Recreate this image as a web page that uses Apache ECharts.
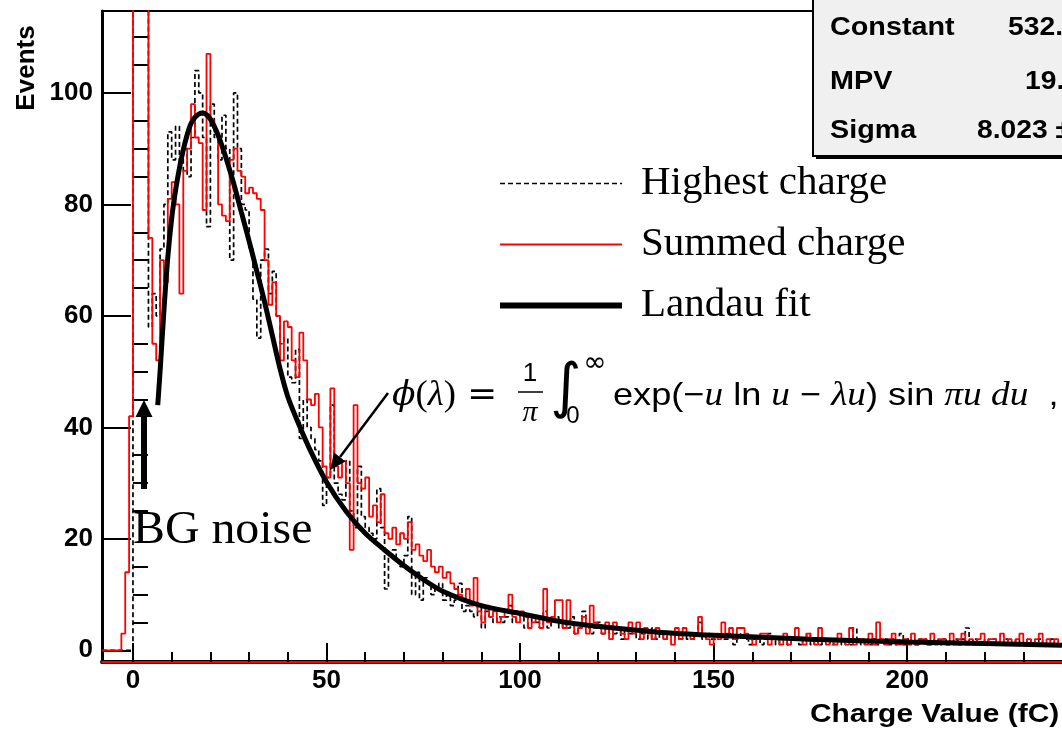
<!DOCTYPE html>
<html><head><meta charset="utf-8">
<script src="https://cdn.jsdelivr.net/npm/echarts@6/dist/echarts.min.js"></script>
<style>html,body{margin:0;padding:0;background:#fff}#c{width:1062px;height:732px}</style>
</head><body><div id="c"></div>
<script>
// ---- data ----
const binStart = -8;   // fC, left edge of first bin
const binWidth = 1;    // fC
const summedCharge = [
  0,0,0,0,0,3,14,42,
  130,130,130,130,74,55,52,70,66,81,
  84,80,64,86,90,98,92,91,79,107,
  95,93,80,78,77,88,90,86,85,82,
  83,82,81,79,70,62,66,60,
  52,59,58,52,49,57,52,45,44,46,40,33,
  31,47,33,31,34,30,18,44,30,29,31,24,
  26,23,28,21,20,22,19,21,20,23,18,19,
  17,16,18,15,14,15,13,14,12,11,10,9,
  11,8,13,7,5,8,6,7,5,6,
  7,10,6,5,7,6,4,5,6,4,11,5,
  6,9,9,4,9,5,3,4,6,3,8,5,
  4,3,5,2,5,4,3,2,5,3,5,2,
  4,3,2,4,3,2,3,1,4,2,4,3,
  2,3,6,3,2,1,3,2,5,3,4,2,
  4,4,3,2,1,2,3,3,1,2,2,1,
  3,1,2,4,2,1,3,2,1,4,2,1,
  2,1,3,2,1,4,1,2,2,1,3,1,
  5,2,1,2,3,1,1,2,1,3,1,2,
  2,1,3,1,2,2,1,3,1,2,3,1,
  2,1,2,3,1,2,2,1,3,1,2,1,
  2,3,1,2,1,2,3,1,2,1,2,1
];
const highestCharge = [
  0,0,0,0,0,0,0,0,
  130,130,130,130,58,64,60,72,80,93,
  88,94,86,90,85,92,104,100,92,76,
  98,92,88,96,90,70,100,90,80,79,
  72,63,56,70,72,64,68,60,
  55,56,49,48,54,38,45,40,38,36,34,26,
  31,44,30,28,27,34,25,22,33,24,22,21,
  20,29,22,11,17,18,16,15,17,24,10,14,
  9,13,12,10,11,12,9,10,8,9,12,7,
  8,7,6,8,4,7,6,5,6,5,
  6,8,5,7,6,4,6,5,5,4,7,4,
  5,6,4,5,4,6,3,4,7,4,3,4,
  5,3,4,3,3,4,2,4,3,3,2,3,
  3,2,4,2,3,2,3,3,2,2,3,2,
  2,3,5,2,3,2,2,3,2,2,3,1,
  2,3,2,1,2,2,1,2,3,2,1,2,
  2,1,2,2,1,2,3,1,2,1,2,2,
  1,2,2,1,2,1,4,2,1,2,1,2,
  1,2,2,1,2,1,3,1,2,1,1,2,
  2,1,1,2,1,2,1,1,2,1,2,4,
  1,2,1,1,2,1,2,1,1,2,1,1,
  2,1,1,2,1,1,2,1,1,2,1,1
];
const fitX = [6.4,7,8,9,10,11,12,13,14,15,16,17,18,19,20,21,22,23,24,26,28,30,32,34,36,38,40,43,46,50,55,60,65,70,75,80,90,100,110,120,135,150,175,200,220,240];
const fitY = [44,50,61,70.5,77.5,82.5,86.5,89.8,92.5,94.5,95.6,96.2,96.4,96.1,95.3,94.0,92.4,90.5,88.4,83.8,78.6,73.4,68.0,62.5,56.5,50.5,45.5,40.3,35.6,30.2,25.0,21.0,18.0,15.2,12.7,10.6,8.0,6.6,5.2,4.3,3.3,2.7,2.0,1.5,1.2,0.9];
const seriesNames = ['Highest charge','Summed charge','Landau fit'];
const xTickLabels = [0,50,100,150,200];
const xMinorTicks = [10,20,30,40,60,70,80,90,110,120,130,140,160,170,180,190,210,220,230];
const yTickLabels = [0,20,40,60,80,100];
const yMinorTicks = [5,10,15,25,30,35,45,50,55,65,70,75,85,90,95,105,110];
const statNames = ['Constant','MPV','Sigma'];
const statValues = ['532.','19.','8.023 ±'];
const xTitle = 'Charge Value (fC)';
const yTitle = 'Events';

function histData(vals){
  const d = vals.map((v,i)=>[binStart+i*binWidth, v]);
  d.push([binStart+vals.length*binWidth, vals[vals.length-1]]);
  return d;
}

const SANS = '"Liberation Sans", Arial, sans-serif';
const SERIF = '"Liberation Serif", "Times New Roman", serif';
const XMIN=-8, XMAX=240, YMIN=-2.1, YMAX=114.7;

const chart = echarts.init(document.getElementById('c'), null, {renderer:'canvas'});

function txt(x,y,text,font,opts){
  opts = opts||{};
  return {type:'text', x:x, y:y, z:100, scaleX:opts.sx||1, rotation:opts.rot||0,
    style:{text:text, font:font, fill:'#000', align:opts.align||'left', textAlign:opts.align||'left',
      verticalAlign:'middle', textVerticalAlign:'middle', rich:opts.rich}};
}

const it = {fontFamily:'"Liberation Serif", serif', fontStyle:'italic', fontSize:35, color:'#000'};
const rm = {fontFamily:'"Liberation Serif", serif', fontSize:35, color:'#000'};
const eq = {fontFamily:'"DejaVu Sans", sans-serif', fontSize:34, color:'#000'};
const ph = {fontFamily:'"DejaVu Serif", serif', fontStyle:'italic', fontSize:33, color:'#000'};
const sf = {fontFamily:'"Liberation Sans", sans-serif', fontSize:32, color:'#000'};

const graphics = [
  // stats box shadow + box
  {type:'rect', z:98, shape:{x:816,y:-4,width:260,height:163}, style:{fill:'#000'}},
  {type:'rect', z:99, shape:{x:813,y:-4,width:260,height:160}, style:{fill:'#f0f0f0', stroke:'#000', lineWidth:2}},
  txt(830,28,statNames[0],'bold 25px '+SANS,{sx:1.15}),
  txt(830,82,statNames[1],'bold 25px '+SANS,{sx:1.15}),
  txt(830,131,statNames[2],'bold 25px '+SANS,{sx:1.15}),
  txt(1008,28,statValues[0],'bold 25px '+SANS,{sx:1.13}),
  txt(1025,82,statValues[1],'bold 25px '+SANS,{sx:1.13}),
  txt(977,131,statValues[2],'bold 25px '+SANS,{sx:1.13}),
  // axis titles
  txt(27,68,yTitle,'bold 26px '+SANS,{align:'center', rot:Math.PI/2}),
  txt(810,715,xTitle,'bold 26px '+SANS,{sx:1.15}),
  // BG noise annotation
  txt(133,531,'BG noise','46px '+SERIF,{sx:1.04}),
  {type:'rect', z:100, shape:{x:141,y:415,width:6,height:74}, style:{fill:'#000'}},
  {type:'polygon', z:100, shape:{points:[[135.5,417],[152.5,417],[144,400]]}, style:{fill:'#000'}},
  // formula arrow
  {type:'line', z:100, shape:{x1:388,y1:393,x2:340,y2:457}, style:{stroke:'#000', lineWidth:2.5}},
  {type:'polygon', z:100, shape:{points:[[330,470],[345.5,461.5],[334,452.5]]}, style:{fill:'#000'}},
  // formula
  txt(392,396,'{p|ϕ}{r|(}{i|λ}{r|)}{e| = }','',{sx:1.05, rich:{i:it, r:rm, e:eq, p:ph}}),
  txt(530,374,'1','26px '+SANS,{align:'center'}),
  {type:'line', z:100, shape:{x1:518,y1:392,x2:543,y2:392}, style:{stroke:'#000', lineWidth:1.5}},
  txt(530,413,'π','italic 30px '+SERIF,{align:'center'}),
  txt(566,390,'∫','60px "DejaVu Sans", sans-serif',{align:'center'}),
  txt(595,364,'∞','28px "DejaVu Sans", sans-serif',{align:'center'}),
  txt(573,416,'0','24px '+SANS,{align:'center'}),
  txt(613,396,'{s|exp(−}{i|u}{s| ln }{i|u}{s| − }{i|λu}{s|) sin }{i|πu du}{s|  ,}','',{sx:1.13, rich:{i:Object.assign({},it,{fontSize:33}), s:sf}})
];

const option = {
  animation:false,
  backgroundColor:'#fff',
  textStyle:{fontFamily:SANS},
  grid:{left:102, right:-4, top:11, bottom:70, containLabel:false},
  legend:{
    show:true, orient:'vertical', left:492, top:158, itemWidth:122, itemHeight:14, itemGap:20,
    data:[
      {name:seriesNames[0], itemStyle:{opacity:0}, lineStyle:{color:'#000', width:1.6, type:[5,3]}},
      {name:seriesNames[1], itemStyle:{opacity:0}, lineStyle:{color:'#ff0000', width:2}},
      {name:seriesNames[2], itemStyle:{opacity:0}, lineStyle:{color:'#000', width:6}}
    ],
    textStyle:{fontFamily:'"Liberation Serif", serif', fontSize:41, color:'#000', padding:[0,0,0,14]},
    selectedMode:false
  },
  xAxis:[
    {type:'value', min:XMIN, max:XMAX, position:'bottom',
      axisLine:{show:true, onZero:false, lineStyle:{color:'#000', width:4}},
      axisTick:{show:true, inside:true, length:19, customValues:xTickLabels, lineStyle:{color:'#000', width:2}},
      axisLabel:{show:true, customValues:xTickLabels, fontSize:26, fontWeight:'bold', fontFamily:SANS, color:'#000', margin:6},
      splitLine:{show:false}},
    {type:'value', min:XMIN, max:XMAX, position:'bottom',
      axisLine:{show:true, onZero:false, lineStyle:{color:'#ff0000', width:2}},
      axisTick:{show:true, inside:true, length:10, customValues:xMinorTicks, lineStyle:{color:'#000', width:2}},
      axisLabel:{show:false}, splitLine:{show:false}},
    {type:'value', min:XMIN, max:XMAX, position:'top',
      axisLine:{show:true, onZero:false, lineStyle:{color:'#000', width:2}},
      axisTick:{show:false}, axisLabel:{show:false}, splitLine:{show:false}}
  ],
  yAxis:[
    {type:'value', min:YMIN, max:YMAX, position:'left',
      axisLine:{show:true, onZero:false, lineStyle:{color:'#000', width:3}},
      axisTick:{show:true, inside:true, length:29, customValues:yTickLabels, lineStyle:{color:'#000', width:2}},
      axisLabel:{show:true, customValues:yTickLabels, fontSize:26, fontWeight:'bold', fontFamily:SANS, color:'#000', margin:9},
      splitLine:{show:false}},
    {type:'value', min:YMIN, max:YMAX, position:'left',
      axisLine:{show:false},
      axisTick:{show:true, inside:true, length:15, customValues:yMinorTicks, lineStyle:{color:'#000', width:2}},
      axisLabel:{show:false}, splitLine:{show:false}}
  ],
  series:[
    {type:'line', name:seriesNames[0], xAxisIndex:0, yAxisIndex:0, step:'end', symbol:'none', clip:true,
      data:histData(highestCharge), lineStyle:{color:'#000', width:1.7, type:[5,3]}, itemStyle:{color:'#000'}, z:2},
    {type:'line', name:seriesNames[1], xAxisIndex:0, yAxisIndex:0, step:'end', symbol:'none', clip:true,
      data:histData(summedCharge), lineStyle:{color:'#ff0000', width:1.8}, itemStyle:{color:'#ff0000'}, z:3},
    {type:'line', name:seriesNames[2], xAxisIndex:0, yAxisIndex:0, smooth:0.3, symbol:'none', clip:true,
      data:fitX.map((x,i)=>[x,fitY[i]]), lineStyle:{color:'#000', width:5}, itemStyle:{color:'#000'}, z:4}
  ],
  graphic:{elements:graphics}
};
chart.setOption(option);
</script>
</body></html>
